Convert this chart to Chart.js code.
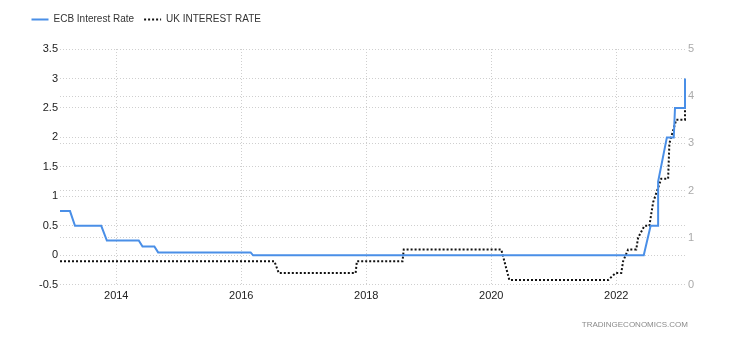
<!DOCTYPE html>
<html>
<head>
<meta charset="utf-8">
<script src="https://cdn.jsdelivr.net/npm/chart.js@4"></script>
<style>
  html, body { margin: 0; padding: 0; background: #fff; }
  #wrap { width: 730px; height: 340px; position: relative; }
</style>
</head>
<body>
<div id="wrap"><canvas id="c" width="730" height="340"></canvas></div>
<script>
// ---- data ----
const ecbLabel = 'ECB Interest Rate';
const ukLabel = 'UK INTEREST RATE';
const ecbDates = [2013.1, 2013.26, 2013.34, 2013.76, 2013.85, 2014.36, 2014.42, 2014.61, 2014.67, 2016.15, 2016.19, 2022.44, 2022.55, 2022.67, 2022.67, 2022.81, 2022.92, 2022.94, 2023.1, 2023.1];
const ecbRates = [0.75, 0.75, 0.5, 0.5, 0.25, 0.25, 0.15, 0.15, 0.05, 0.05, 0, 0, 0.5, 0.5, 1.25, 2, 2, 2.5, 2.5, 3];
const ukDates = [2013.1, 2016.53, 2016.6, 2017.83, 2017.85, 2018.58, 2018.6, 2020.16, 2020.29, 2021.87, 2021.99, 2022.08, 2022.11, 2022.19, 2022.32, 2022.35, 2022.45, 2022.53, 2022.59, 2022.72, 2022.83, 2022.85, 2022.96, 2023.1, 2023.1];
const ukRates = [0.5, 0.5, 0.25, 0.25, 0.5, 0.5, 0.75, 0.75, 0.1, 0.1, 0.25, 0.25, 0.5, 0.75, 0.75, 1.0, 1.25, 1.25, 1.75, 2.25, 2.25, 3.0, 3.5, 3.5, 4.0];
const xTicks = [2014, 2016, 2018, 2020, 2022];
const leftTicks = [-0.5, 0, 0.5, 1, 1.5, 2, 2.5, 3, 3.5];
const rightTicks = [0, 1, 2, 3, 4, 5];
const watermark = 'TRADINGECONOMICS.COM';

const FONT = '"Liberation Sans", Arial, sans-serif';
const gridOpts = { color: '#cfcfcf', lineWidth: 1, drawTicks: false };
const borderOpts = { display: false, dash: [1, 2] };

const watermarkPlugin = {
  id: 'watermark',
  afterDraw(chart) {
    const ctx = chart.ctx;
    ctx.save();
    ctx.font = '8px ' + FONT;
    ctx.fillStyle = '#8a8a8a';
    ctx.textAlign = 'right';
    ctx.textBaseline = 'middle';
    ctx.fillText(watermark, 688, 325);
    ctx.restore();
  }
};

// reserve the space under the legend that the reference leaves above the plot
const legendSpacePlugin = {
  id: 'legendSpace',
  beforeLayout(chart) {
    const lg = chart.legend;
    if (lg && !lg._patched) {
      const orig = lg.fit;
      lg.fit = function () { orig.call(this); this.height = 44.5; };
      lg._patched = true;
    }
  }
};

new Chart(document.getElementById('c'), {
  type: 'line',
  data: {
    datasets: [
      {
        label: ecbLabel,
        data: ecbDates.map((d, i) => ({ x: d, y: ecbRates[i] })),
        yAxisID: 'y',
        borderColor: '#4a8fe7',
        backgroundColor: '#4a8fe7',
        borderWidth: 2,
        pointRadius: 0,
        tension: 0,
        clip: 4
      },
      {
        label: ukLabel,
        data: ukDates.map((d, i) => ({ x: d, y: ukRates[i] })),
        yAxisID: 'y1',
        borderColor: '#111',
        backgroundColor: '#111',
        borderWidth: 2,
        borderDash: [2, 2],
        pointRadius: 0,
        tension: 0,
        clip: 4
      }
    ]
  },
  options: {
    responsive: false,
    animation: false,
    layout: { padding: { left: 21.5, right: 0, top: 4.5, bottom: 32 } },
    plugins: {
      legend: {
        position: 'top',
        align: 'start',
        labels: {
          usePointStyle: true,
          pointStyle: 'line',
          pointStyleWidth: 17,
          padding: 10,
          color: '#333',
          font: { family: FONT, size: 10 },
          generateLabels: (chart) =>
            Chart.defaults.plugins.legend.labels.generateLabels(chart).map((l, i) => ({
              ...l,
              lineWidth: 2,
              strokeStyle: chart.data.datasets[i].borderColor,
              lineDash: chart.data.datasets[i].borderDash || []
            }))
        }
      },
      tooltip: { enabled: false }
    },
    scales: {
      x: {
        type: 'linear',
        min: 2013.1,
        max: 2023.1,
        grid: gridOpts,
        border: borderOpts,
        afterBuildTicks: (s) => { s.ticks = xTicks.map(v => ({ value: v })); },
        ticks: {
          padding: 5,
          color: '#222',
          font: { family: FONT, size: 11 },
          maxRotation: 0,
          autoSkip: false,
          callback: (v) => String(v)
        }
      },
      y: {
        type: 'linear',
        position: 'left',
        min: -0.5,
        max: 3.5,
        grid: gridOpts,
        border: borderOpts,
        afterBuildTicks: (s) => { s.ticks = leftTicks.map(v => ({ value: v })); },
        afterFit: (s) => { s.width = 38.5; },
        ticks: {
          padding: 2,
          color: '#222',
          font: { family: FONT, size: 11 },
          callback: (v) => String(v)
        }
      },
      y1: {
        type: 'linear',
        position: 'right',
        min: 0,
        max: 5,
        grid: gridOpts,
        border: borderOpts,
        afterBuildTicks: (s) => { s.ticks = rightTicks.map(v => ({ value: v })); },
        afterFit: (s) => { s.width = 45; },
        ticks: {
          padding: 3,
          color: '#aaaaaa',
          font: { family: FONT, size: 11 },
          callback: (v) => String(v)
        }
      }
    }
  },
  plugins: [legendSpacePlugin, watermarkPlugin]
});
</script>
</body>
</html>
